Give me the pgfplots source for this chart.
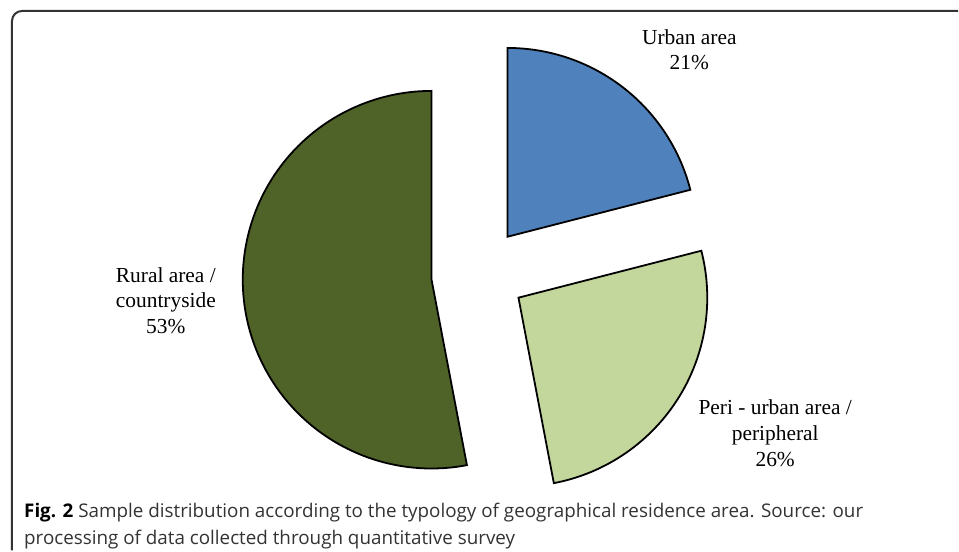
\documentclass[border=0pt]{standalone}
\usepackage{pgfplots}
\pgfplotsset{compat=1.18}
\usepackage{fontspec}
\setmainfont{Liberation Serif}
\newfontfamily\capfont{Open Sans}
\definecolor{cUrban}{HTML}{4F81BD}
\definecolor{cPeri}{HTML}{C3D69B}
\definecolor{cRural}{HTML}{4F6228}
\definecolor{cFrame}{HTML}{333333}
% shares (percent)
\def\vUrban{21}
\def\vPeri{26}
\def\vRural{53}
\begin{document}
\begin{tikzpicture}
\begin{axis}[
  width=959bp, height=551bp, scale only axis,
  xmin=0, xmax=959, ymin=0, ymax=551,
  hide axis, clip=false,
]
\path (0,0) rectangle (959,551);
% Urban: 90 -> 90-360*21%
\addplot[fill=cUrban, draw=black, line width=1.8bp, domain={90-3.6*\vUrban}:90, samples=80]
  ({508+189*cos(x)}, {314+189*sin(x)}) -- (508,314) -- cycle;
% Peri-urban
\addplot[fill=cPeri, draw=black, line width=1.8bp, domain={90-3.6*(\vUrban+\vPeri)}:{90-3.6*\vUrban}, samples=80]
  ({519+189*cos(x)}, {253+189*sin(x)}) -- (519,253) -- cycle;
% Rural
\addplot[fill=cRural, draw=black, line width=1.8bp, domain={-270}:{90-3.6*(\vUrban+\vPeri)}, samples=120]
  ({432+189*cos(x)}, {271+189*sin(x)}) -- (432,271) -- cycle;

\node[align=center, font=\fontsize{21.5}{25}\selectfont] at (690,501) {Urban area\\21\%};
\node[align=center, font=\fontsize{21.5}{26}\selectfont] at (166,250) {Rural area /\\countryside\\53\%};
\node[align=center, font=\fontsize{21.5}{26}\selectfont] at (776,117) {Peri - urban area /\\peripheral\\26\%};

\draw[cFrame, line width=2bp, rounded corners=10bp] (12,0) -- (12,540) -- (959,540);

\node[anchor=base west, inner sep=0pt, align=left, text=cFrame, font=\capfont\fontsize{18.9}{27}\selectfont] at (24,6)
  {\textbf{\color{black}Fig. 2} Sample distribution according to the typology of geographical residence area. Source: our\\processing of data collected through quantitative survey};
\end{axis}
\end{tikzpicture}
\end{document}
